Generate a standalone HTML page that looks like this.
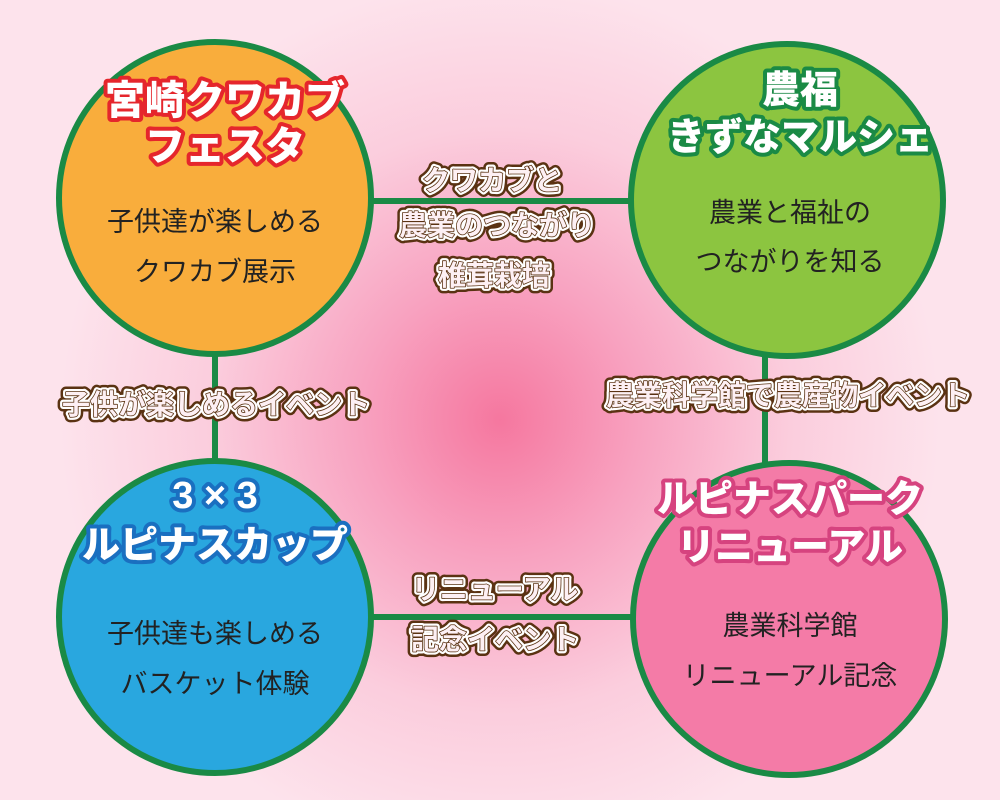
<!DOCTYPE html>
<html><head><meta charset="utf-8"><style>
html,body{margin:0;padding:0;}
body{width:1000px;height:800px;overflow:hidden;background:radial-gradient(circle at 500px 420px,#f5779f 0px,#f8a2c0 140px,#fbcddd 290px,#fde3ec 440px);}
svg{position:absolute;left:0;top:0;font-family:"Liberation Sans","Noto Sans CJK JP",sans-serif;}
.t{font-weight:900;text-anchor:middle;stroke-linejoin:round;paint-order:stroke;}
.b{font-size:27px;text-anchor:middle;fill:#222;}
.l1{font-weight:bold;text-anchor:middle;stroke:#5a3212;stroke-width:11px;stroke-linejoin:round;fill:#5a3212;}
.l2{font-weight:bold;text-anchor:middle;stroke:#fff;stroke-width:6px;stroke-linejoin:round;fill:#fff;}
.l3{font-weight:bold;text-anchor:middle;fill:#fdf0f4;stroke:#5a3212;stroke-width:1.6px;stroke-linejoin:round;paint-order:stroke;}
</style></head><body>
<svg width="1000" height="800" viewBox="0 0 1000 800">
<g stroke="#1a8a45" stroke-width="6">
<line x1="370" y1="201" x2="632" y2="201"/>
<line x1="370" y1="617" x2="632" y2="617"/>
<line x1="215" y1="350" x2="215" y2="465"/>
<line x1="765" y1="350" x2="765" y2="465"/>
</g>
<g stroke="#1a8a45" stroke-width="6">
<circle cx="215" cy="198" r="156" fill="#f9ad3c"/>
<circle cx="787" cy="200" r="156" fill="#8cc540"/>
<circle cx="215" cy="617" r="156" fill="#29a7df"/>
<circle cx="789" cy="619" r="156" fill="#f47ba7"/>
</g>
<g class="t" fill="#fff" stroke-width="8">
<text x="225" y="114" font-size="40" stroke="#e5262c">宮崎クワカブ</text>
<text x="225" y="160" font-size="40" stroke="#e5262c">フェスタ</text>
<text x="800" y="103" font-size="38" stroke="#1a8a45">農福</text>
<text x="800" y="150" font-size="38" stroke="#1a8a45">きずなマルシェ</text>
<text x="215" y="508" font-size="38" stroke="#1a6fc0">3 × 3</text>
<text x="215" y="558" font-size="38" stroke="#1a6fc0">ルピナスカップ</text>
<text x="790" y="512" font-size="38" stroke="#d6437f">ルピナスパーク</text>
<text x="790" y="560" font-size="38" stroke="#d6437f">リニューアル</text>
</g>
<g class="b">
<text x="215" y="231">子供達が楽しめる</text>
<text x="215" y="281">クワカブ展示</text>
<text x="790" y="222">農業と福祉の</text>
<text x="790" y="271">つながりを知る</text>
<text x="215" y="643">子供達も楽しめる</text>
<text x="215" y="693">バスケット体験</text>
<text x="790" y="635">農業科学館</text>
<text x="790" y="685">リニューアル記念</text>
</g>
<g font-size="28">
<text class="l1" x="492" y="190">クワカブと</text><text class="l2" x="492" y="190">クワカブと</text><text class="l3" x="492" y="190">クワカブと</text>
<text class="l1" x="497" y="235">農業のつながり</text><text class="l2" x="497" y="235">農業のつながり</text><text class="l3" x="497" y="235">農業のつながり</text>
<text class="l1" x="494" y="285">椎茸栽培</text><text class="l2" x="494" y="285">椎茸栽培</text><text class="l3" x="494" y="285">椎茸栽培</text>
<text class="l1" x="495" y="599">リニューアル</text><text class="l2" x="495" y="599">リニューアル</text><text class="l3" x="495" y="599">リニューアル</text>
<text class="l1" x="495" y="649">記念イベント</text><text class="l2" x="495" y="649">記念イベント</text><text class="l3" x="495" y="649">記念イベント</text>
<text class="l1" x="216" y="414">子供が楽しめるイベント</text><text class="l2" x="216" y="414">子供が楽しめるイベント</text><text class="l3" x="216" y="414">子供が楽しめるイベント</text>
<text class="l1" x="788" y="405">農業科学館で農産物イベント</text><text class="l2" x="788" y="405">農業科学館で農産物イベント</text><text class="l3" x="788" y="405">農業科学館で農産物イベント</text>
</g>
</svg>
</body></html>
